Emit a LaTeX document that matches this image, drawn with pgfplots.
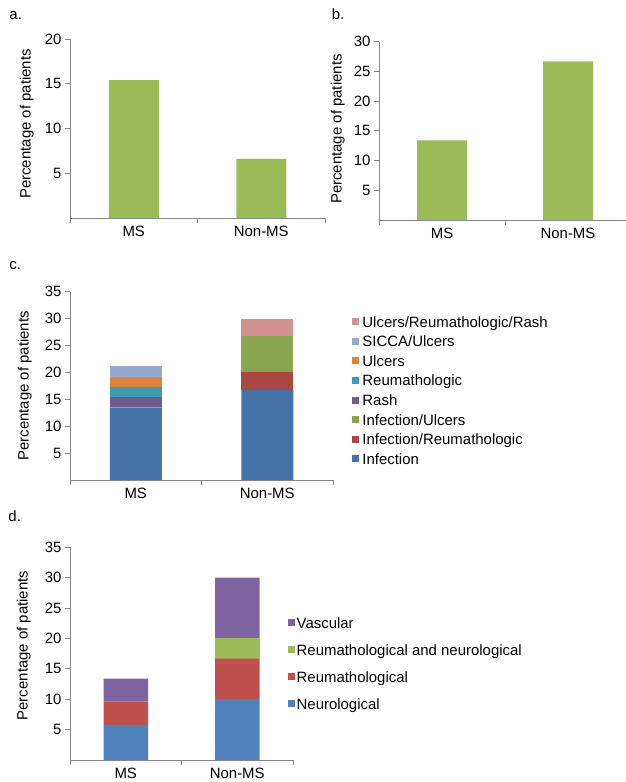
\documentclass[border=0pt]{standalone}
\usepackage{fontspec}
\setmainfont{Liberation Sans}
\usepackage{pgfplots}
\pgfplotsset{compat=1.18}
\definecolor{axgray}{HTML}{878787}
\definecolor{xgreen}{HTML}{9BBB59}
\definecolor{cInf}{HTML}{4572A7}
\definecolor{cInfReu}{HTML}{AA4643}
\definecolor{cInfUlc}{HTML}{89A54E}
\definecolor{cRash}{HTML}{71588F}
\definecolor{cReu}{HTML}{4198AF}
\definecolor{cUlc}{HTML}{DB843D}
\definecolor{cSicca}{HTML}{93A9CF}
\definecolor{cURR}{HTML}{D19392}
\definecolor{dNeu}{HTML}{4F81BD}
\definecolor{dReu}{HTML}{C0504D}
\definecolor{dRN}{HTML}{9BBB59}
\definecolor{dVas}{HTML}{8064A2}
\newcommand{\fs}{\fontsize{15}{18}\selectfont}
\pgfplotsset{
 panel/.style={
  scale only axis, anchor=south west,
  axis x line*=bottom, axis y line*=left,
  axis line style={draw=axgray, line width=0.8bp},
  xmin=-0.5, xmax=1.5, ymin=0,
  xtick={0,1}, xticklabels={MS,Non-MS},
  minor xtick={-0.5,0.5,1.5},
  tick align=outside,
  major tick length=5bp, minor tick length=5bp,
  every tick/.style={draw=axgray, line width=0.8bp},
  major x tick style={draw=none},
  tick label style={font=\fs, text=black},
  /pgf/number format/assume math mode=true,
  ylabel={Percentage of patients},
  label style={font=\fs},
  clip=false,
 },
 leg/.style={
  reverse legend,
  legend cell align=left,
  legend style={draw=none, fill=none, inner sep=0pt, outer sep=0pt, font=\fs,
    cells={anchor=base west},
    nodes={inner sep=0pt, text height=10.5bp, text depth=3.3bp},
    /tikz/column 1/.style={column sep=#1}},
  every axis plot post/.append style={
    legend image code/.code={\fill[##1] (0bp,1.8bp) rectangle (7bp,8.8bp);}},
 },
}
\begin{document}
\begin{tikzpicture}[x=1bp,y=1bp]
\useasboundingbox (0,0) rectangle (626,782);
\node[anchor=base west, font=\fs, inner sep=0pt] at (9.3,762) {a.};
\node[anchor=base west, font=\fs, inner sep=0pt] at (331.7,762.7) {b.};
\node[anchor=base west, font=\fs, inner sep=0pt] at (9.3,512) {c.};
\node[anchor=base west, font=\fs, inner sep=0pt] at (8.3,260.3) {d.};
% panel a
\begin{axis}[panel, at={(70bp,564bp)}, width=255bp, height=179bp,
  ymax=20, ytick={5,10,15,20},
  ylabel style={at={(rel axis cs:0,0.525)}, anchor=south, inner sep=0pt, yshift=36bp},
  ybar, bar width=50bp]
\addplot[fill=xgreen, draw=none] coordinates {(0,15.4) (1,6.6)};
\end{axis}
% panel b
\begin{axis}[panel, at={(379bp,562bp)}, width=252bp, height=178.3bp,
  ymax=30, ytick={5,10,15,20,25,30},
  ylabel style={at={(rel axis cs:0,0.51)}, anchor=south, inner sep=0pt, yshift=34bp},
  ybar, bar width=50bp]
\addplot[fill=xgreen, draw=none] coordinates {(0,13.4) (1,26.7)};
\end{axis}
% panel c
\begin{axis}[panel, at={(70bp,302bp)}, width=263bp, height=188.3bp,
  ymax=35, ytick={5,10,15,20,25,30,35},
  ylabel style={at={(rel axis cs:0,0.5)}, anchor=south, inner sep=0pt, yshift=38bp},
  ybar stacked, bar width=52bp, leg=3.5bp,
  legend style={at={(1.072,0.467)}, anchor=west, row sep=5.8bp}]
\addplot[fill=cInf, draw=none] coordinates {(0,13.5) (1,16.7)};
\addlegendentry{Infection}
\addplot[fill=cInfReu, draw=none] coordinates {(0,0) (1,3.3)};
\addlegendentry{Infection/Reumathologic}
\addplot[fill=cInfUlc, draw=none] coordinates {(0,0) (1,6.7)};
\addlegendentry{Infection/Ulcers}
\addplot[fill=cRash, draw=none] coordinates {(0,1.9) (1,0)};
\addlegendentry{Rash}
\addplot[fill=cReu, draw=none] coordinates {(0,1.9) (1,0)};
\addlegendentry{Reumathologic}
\addplot[fill=cUlc, draw=none] coordinates {(0,1.9) (1,0)};
\addlegendentry{Ulcers}
\addplot[fill=cSicca, draw=none] coordinates {(0,1.9) (1,0)};
\addlegendentry{SICCA/Ulcers}
\addplot[fill=cURR, draw=none] coordinates {(0,0) (1,3.3)};
\addlegendentry{Ulcers/Reumathologic/Rash}
\end{axis}
% panel d
\begin{axis}[panel, at={(70bp,22bp)}, width=223bp, height=212.7bp,
  ymax=35, ytick={5,10,15,20,25,30,35},
  ylabel style={at={(rel axis cs:0,0.538)}, anchor=south, inner sep=0pt, yshift=39bp},
  ybar stacked, bar width=44.5bp, leg=2bp,
  legend style={at={(0.976,0.446)}, anchor=west, row sep=13.2bp}]
\addplot[fill=dNeu, draw=none] coordinates {(0,5.8) (1,10.0)};
\addlegendentry{Neurological}
\addplot[fill=dReu, draw=none] coordinates {(0,3.8) (1,6.7)};
\addlegendentry{Reumathological}
\addplot[fill=dRN, draw=none] coordinates {(0,0) (1,3.3)};
\addlegendentry{Reumathological and neurological}
\addplot[fill=dVas, draw=none] coordinates {(0,3.8) (1,10.0)};
\addlegendentry{Vascular}
\end{axis}
\end{tikzpicture}
\end{document}
